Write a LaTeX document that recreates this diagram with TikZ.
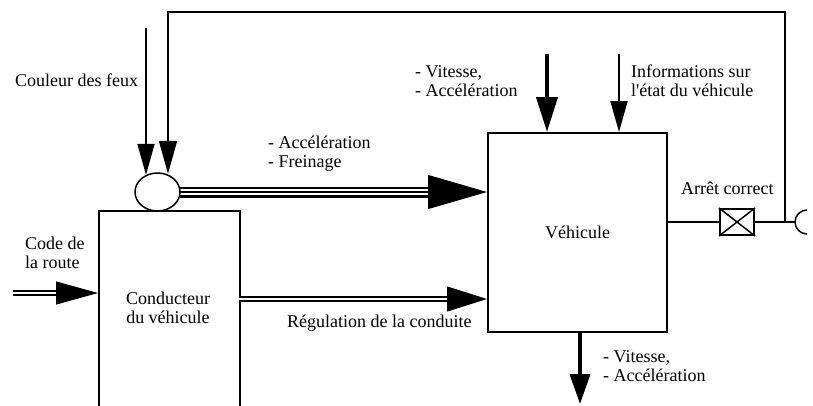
\documentclass[tikz,border=0pt]{standalone}
\usepackage{fontspec}
\setmainfont{Liberation Serif}
\usetikzlibrary{arrows.meta,shapes.geometric}
\begin{document}
\begin{tikzpicture}[x=1pt,y=-1pt,
  txt/.style={inner sep=0pt, font=\fontsize{18}{19}\selectfont, align=left},
  boxx/.style={draw, line width=2pt, inner sep=0pt},
  thinarr/.style={line width=2pt, -{Triangle[length=31pt,width=17pt]}},
  fbarr/.style={line width=1.8pt, -{Triangle[length=33pt,width=18pt]}},
  thickarr/.style={line width=4pt, -{Triangle[length=35pt,width=21pt]}},
  downarr/.style={line width=4pt, -{Triangle[length=30pt,width=20pt]}},
  dblline/.style={double, double distance=1.3pt, line width=1.9pt},
  tripleline/.style={line width=11pt, postaction={draw=white, line width=6.5pt}, postaction={draw=black, line width=2.5pt}},
  headA/.style={line width=1pt, -{Triangle[length=59pt,width=34pt]}},
  headB/.style={line width=1pt, -{Triangle[length=42pt,width=23pt]}},
  headC/.style={line width=1pt, -{Triangle[length=40pt,width=25pt]}},
  thin/.style={line width=1.5pt}
]
\useasboundingbox (0,0) rectangle (813,405);
\clip (0,0) rectangle (813,405);

% boxes
\node[boxx, anchor=north west, minimum width=141pt, minimum height=230pt] (cond) at (98,210) {};
\node[txt, align=center] (condtext) at (168,308) {Conducteur\\du véhicule};
\node[boxx, minimum width=179pt, minimum height=199pt, font=\fontsize{18}{19}\selectfont] (veh) at (577.5,232.5) {Véhicule};
\node[boxx, minimum width=34pt, minimum height=26pt] (arret) at (737,222) {};
\draw[thin] (arret.north west) -- (arret.south east) (arret.south west) -- (arret.north east);

% coordinates
\coordinate (c1) at (146,28);
\coordinate (fbtop) at (168,12);
\coordinate (jn) at (785,222);
\coordinate (sc) at (795,222);
\coordinate (crs) at (13,293);
\coordinate (t1) at (547,54);
\coordinate (t2) at (619,54);
\coordinate (bot) at (580,404);

% ellipse position (drawn later on top)
\path (157.5,192) node[ellipse, minimum width=45pt, minimum height=38pt, inner sep=0pt] (feu) {};

% inputs to the ellipse
\draw[thinarr] (c1) -- ([yshift=-2pt]c1 |- feu.north);
\draw[fbarr] (jn) |- (fbtop) -- ([yshift=-1pt]fbtop |- feu.north);

% triple connector
\draw[tripleline] (feu.east) -- ([xshift=-58pt]feu.east -| veh.west);
\draw[headA] ([xshift=-58pt]feu.east -| veh.west) -- (feu.east -| veh.west);

% code de la route
\draw[dblline] (crs) -- ([xshift=-42pt]crs -| cond.west);
\draw[headB] ([xshift=-42pt]crs -| cond.west) -- (crs -| cond.west);

% regulation
\coordinate (rg) at (239,299);
\draw[dblline] (rg) -- ([xshift=-40pt]rg -| veh.west);
\draw[headC] ([xshift=-40pt]rg -| veh.west) -- (rg -| veh.west);

% top arrows into vehicle
\draw[thickarr] (t1) -- (t1 |- veh.north);
\draw[thinarr] (t2) -- (t2 |- veh.north);

% bottom arrow
\draw[downarr] (veh.south -| bot) -- (bot);

% right side
\draw[thin] (veh.east |- arret) -- (arret.west);
\draw[thin] (arret.east) -- (sc);
\draw[thin] (sc) arc (180:90:12);
\draw[thin] (sc) arc (180:270:12);

% ellipse on top
\node[draw, fill=white, line width=1.5pt, ellipse, minimum width=45pt, minimum height=38pt, inner sep=0pt] at (feu) {};

% labels
\node[txt, anchor=west] (l1) at (15,80) {Couleur des feux};
\node[txt, anchor=west] (l2) at (268,154) {- Accélération\\- Freinage};
\node[txt, anchor=west] (l3) at (415,81) {- Vitesse,\\- Accélération};
\node[txt, anchor=west] (l4) at (631,81) {Informations sur\\l\textquotesingle état du véhicule};
\node[txt, anchor=west] (l5) at (681,188) {Arrêt correct};
\node[txt, anchor=west] (l6) at (25,253) {Code de\\la route};
\node[txt, anchor=west] (l7) at (287,323) {Régulation de la conduite};
\node[txt, anchor=west] (l8) at (603,366) {- Vitesse,\\- Accélération};
\end{tikzpicture}
\end{document}
